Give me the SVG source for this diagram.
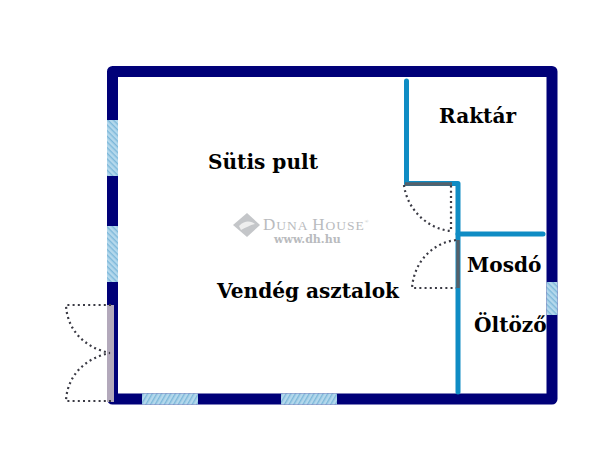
<svg xmlns="http://www.w3.org/2000/svg" width="600" height="455" viewBox="0 0 600 455">
<defs>
<pattern id="hatchV" width="4" height="4" patternUnits="userSpaceOnUse" patternTransform="rotate(45)"><rect width="4" height="4" fill="#b4d8ec"/><rect width="4" height="1.400" fill="#7db8da"/></pattern>
<pattern id="hatchH" width="4" height="4" patternUnits="userSpaceOnUse" patternTransform="rotate(-60)"><rect width="4" height="4" fill="#b4d8ec"/><rect width="4" height="1.400" fill="#7db8da"/></pattern>
</defs>
<style>
.wall{fill:none;stroke:#000078;stroke-width:11;stroke-linejoin:round}
.inner{fill:none;stroke:#0f8cc4;stroke-width:5;stroke-linejoin:round;stroke-linecap:round}
.door{fill:none;stroke:#3a3a44;stroke-width:2.200;stroke-dasharray:2 3.200}
.leaf{fill:none;stroke:#55606a;stroke-width:3.500}
.lbl{font-family:"DejaVu Serif",serif;font-weight:bold;font-size:20.100px;fill:#000}
</style>
<rect width="600" height="455" fill="#fff"/>
<g id="walls">
<rect class="wall" x="112.500" y="71.500" width="439.500" height="327.500"/>
<rect x="107" y="120" width="11" height="56" fill="url(#hatchV)"/>
<rect x="107" y="226" width="11" height="56" fill="url(#hatchV)"/>
<rect x="546.500" y="282" width="11" height="33" fill="url(#hatchV)"/>
<rect x="142" y="393.500" width="56" height="11" fill="url(#hatchH)"/>
<rect x="281" y="393.500" width="56" height="11" fill="url(#hatchH)"/>
<rect x="107" y="305" width="7" height="97" fill="#b3a9bb"/>
</g>
<g id="connectors">
<path class="inner" d="M406.500 81V183.500H458V392"/>
<path class="inner" d="M458 234H543"/>
<path class="leaf" d="M405 184H452"/>
<path class="leaf" d="M458 240V288"/>
</g>
<g id="doors">
<path class="door" d="M111 305H66C67 330 85 348 110 353"/>
<path class="door" d="M111 401H66C67 376 85 358 110 353"/>
<path class="door" d="M404 185C407 209 427 229 451 231V185"/>
<path class="door" d="M456 240C432 243 414 262 412 288H456"/>
</g>
<g id="watermark">
<path d="M247 213L260 225L247 237L233 225Z" fill="#c4c6c9"/>
<path d="M239 226C246 219 252 222 255 224C250 225 245 228 241 230Z" fill="#eee"/>
<text x="263" y="230" font-family="'Liberation Serif',serif" font-size="17" letter-spacing="1" fill="#b9bbbe">D<tspan font-size="13.500">UNA </tspan>H<tspan font-size="13.500">OUSE</tspan><tspan font-size="5" dy="-7">®</tspan></text>
<text x="274" y="243" font-family="'DejaVu Serif',serif" font-weight="bold" font-size="11" fill="#b9bbbe">www.dh.hu</text>
</g>
<g id="room-raktar"><text class="lbl" x="439" y="123">Raktár</text></g>
<g id="room-sutis"><text class="lbl" x="208" y="168.500">Sütis pult</text></g>
<g id="room-vendeg"><text class="lbl" x="217" y="297.500">Vendég asztalok</text></g>
<g id="room-mosdo"><text class="lbl" x="467" y="271.500">Mosdó</text></g>
<g id="room-oltozo"><text class="lbl" x="474" y="331.500">Öltöző</text></g>
</svg>
